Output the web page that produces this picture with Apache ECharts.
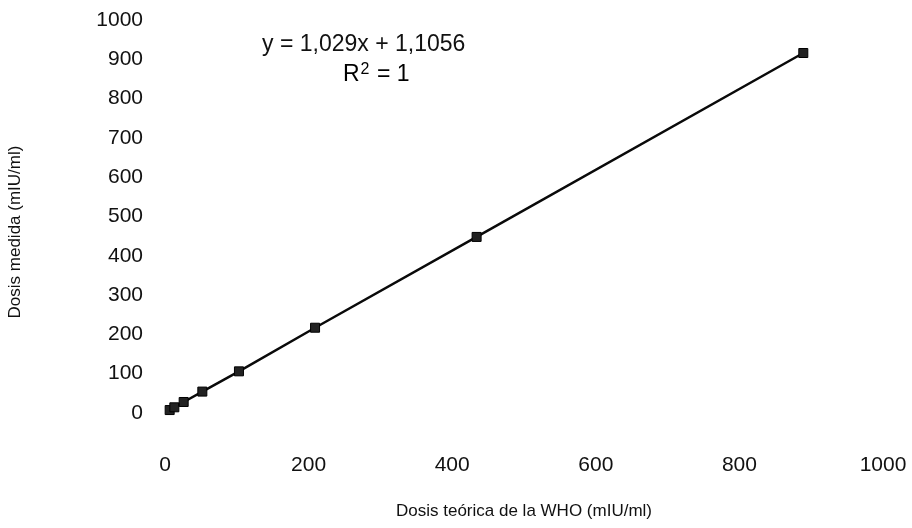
<!DOCTYPE html>
<html>
<head>
<meta charset="utf-8">
<script src="https://cdn.jsdelivr.net/npm/echarts@6/dist/echarts.min.js"></script>
<style>html,body{margin:0;padding:0;background:#fff;}#c{width:912px;height:528px;}</style>
</head>
<body>
<div id="c"></div>
<script>
// Data
var teorica = [6.5, 13, 26, 52, 103, 209, 434, 889];
var medida = [7.5, 14.5, 28, 54.5, 106, 217, 448, 916];
var xTicks = [0, 200, 400, 600, 800, 1000];
var yTicks = [0, 100, 200, 300, 400, 500, 600, 700, 800, 900, 1000];
var equationText = 'y = 1,029x + 1,1056';
var r2Text = '1';
var xTitle = 'Dosis teórica de la WHO (mIU/ml)';
var yTitle = 'Dosis medida (mIU/ml)';

var pts = teorica.map(function (x, i) { return [x, medida[i]]; });
var font = 'Liberation Sans, Arial, sans-serif';
var plain = function (v) { return String(v); };

var chart = echarts.init(document.getElementById('c'), null, {renderer: 'canvas'});
chart.setOption({
  backgroundColor: '#fff',
  animation: false,
  grid: {left: 165, right: 29, top: 20, bottom: 115},
  xAxis: {
    type: 'value', min: xTicks[0], max: xTicks[xTicks.length - 1], interval: xTicks[1] - xTicks[0],
    axisLine: {show: false}, axisTick: {show: false}, splitLine: {show: false},
    axisLabel: {color: '#111', fontFamily: font, fontSize: 21, margin: 42, formatter: plain},
    name: xTitle, nameLocation: 'middle', nameGap: 90,
    nameTextStyle: {color: '#111', fontFamily: font, fontSize: 17}
  },
  yAxis: {
    type: 'value', min: yTicks[0], max: yTicks[yTicks.length - 1], interval: yTicks[1] - yTicks[0],
    axisLine: {show: false}, axisTick: {show: false}, splitLine: {show: false},
    axisLabel: {color: '#111', fontFamily: font, fontSize: 21, margin: 22, formatter: plain}
  },
  graphic: [
    {type: 'text', x: 15, y: 232, rotation: Math.PI / 2,
     style: {text: yTitle, font: '17px ' + font, fill: '#111', align: 'center', verticalAlign: 'middle'}},
    {type: 'text', left: 262, top: 33, style: {text: equationText, font: '23px ' + font, fill: '#111'}},
    {type: 'text', left: 343, top: 62, style: {
      text: '{a|R}{s|2}{a| = 1}',
      rich: {
        a: {fontSize: 23, fontFamily: font, color: '#111'},
        s: {fontSize: 16, fontFamily: font, color: '#111', padding: [0, 1, 10, 1]}
      }
    }}
  ],
  series: [{
    type: 'line', data: pts,
    symbol: 'rect', symbolSize: 9, showSymbol: true,
    lineStyle: {color: '#0a0a0a', width: 2.5},
    itemStyle: {color: '#222', borderColor: '#000', borderWidth: 1}
  }]
});
</script>
</body>
</html>
